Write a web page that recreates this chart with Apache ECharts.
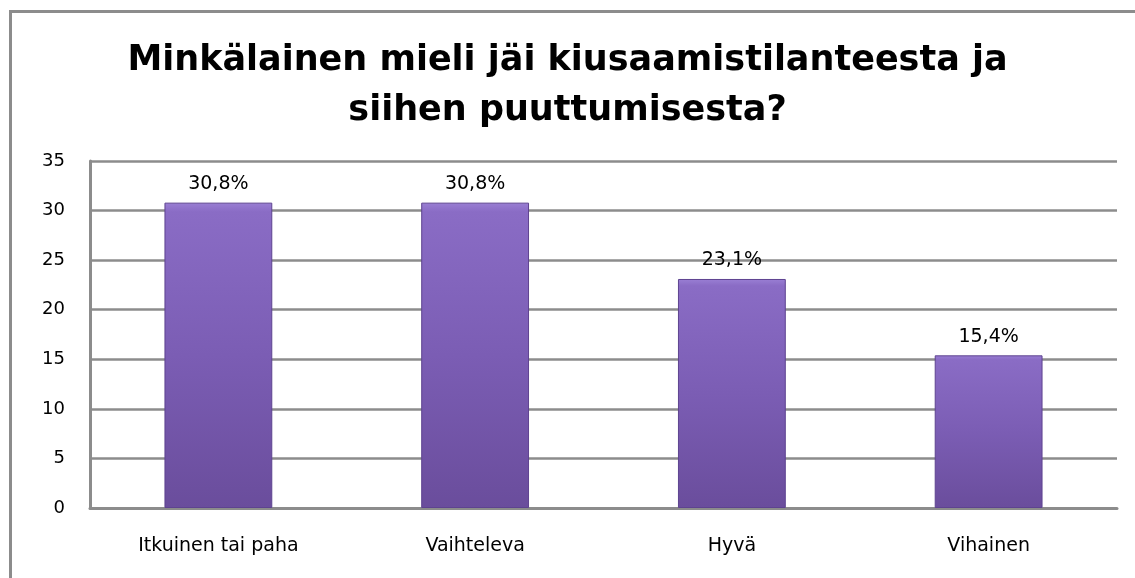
<!DOCTYPE html>
<html><head><meta charset="utf-8">
<script src="https://cdn.jsdelivr.net/npm/echarts@6/dist/echarts.min.js"></script>
<style>html,body{margin:0;padding:0;background:#fff}#c{width:1135px;height:578px}</style>
</head><body><div id="c"></div>
<script>
const titleText = 'Minkälainen mieli jäi kiusaamistilanteesta ja\nsiihen puuttumisesta?';
const categories = ['Itkuinen tai paha', 'Vaihteleva', 'Hyvä', 'Vihainen'];
const values = [30.8, 30.8, 23.1, 15.4];
const valueLabels = ['30,8%', '30,8%', '23,1%', '15,4%'];
const yTicks = [0, 5, 10, 15, 20, 25, 30, 35];

const FONT = 'DejaVu Sans';
const chart = echarts.init(document.getElementById('c'));
chart.setOption({
  animation: false,
  graphic: [{
    type: 'rect', shape: {x: 10.5, y: 11.5, width: 1300, height: 800},
    style: {fill: 'none', stroke: '#8c8c8c', lineWidth: 3}, z: -1
  }],
  title: {
    text: titleText, left: 'center', top: 31,
    textStyle: {fontFamily: FONT, fontWeight: 'bold', fontSize: 35, color: '#000', lineHeight: 50}
  },
  grid: {left: 90, right: 18, top: 161, bottom: 70},
  xAxis: {
    type: 'category', data: categories,
    axisLine: {lineStyle: {color: '#8c8c8c', width: 3}},
    axisTick: {show: false},
    axisLabel: {fontFamily: FONT, fontSize: 19, color: '#000', margin: 29}
  },
  yAxis: {
    type: 'value', min: 0, max: 35, interval: 5,
    axisLine: {show: true, lineStyle: {color: '#8c8c8c', width: 3}},
    axisTick: {show: false},
    splitLine: {lineStyle: {color: '#8c8c8c', width: 2.5}},
    axisLabel: {fontFamily: FONT, fontSize: 18, color: '#000', margin: 25,
      formatter: v => yTicks.includes(v) ? String(v) : ''}
  },
  series: [{
    type: 'bar', data: values, barWidth: '42%',
    itemStyle: {
      color: new echarts.graphic.LinearGradient(0, 0, 0, 1, [
        {offset: 0, color: '#9a7fd4'}, {offset: 0.03, color: '#8a6cc5'}, {offset: 0.5, color: '#7b5db4'}, {offset: 1, color: '#6a4d9c'}
      ]),
      borderColor: '#5e4390', borderWidth: 1
    },
    label: {
      show: true, position: 'top', distance: 9,
      fontFamily: FONT, fontSize: 19, color: '#000',
      formatter: p => valueLabels[p.dataIndex]
    }
  }]
});
</script></body></html>
